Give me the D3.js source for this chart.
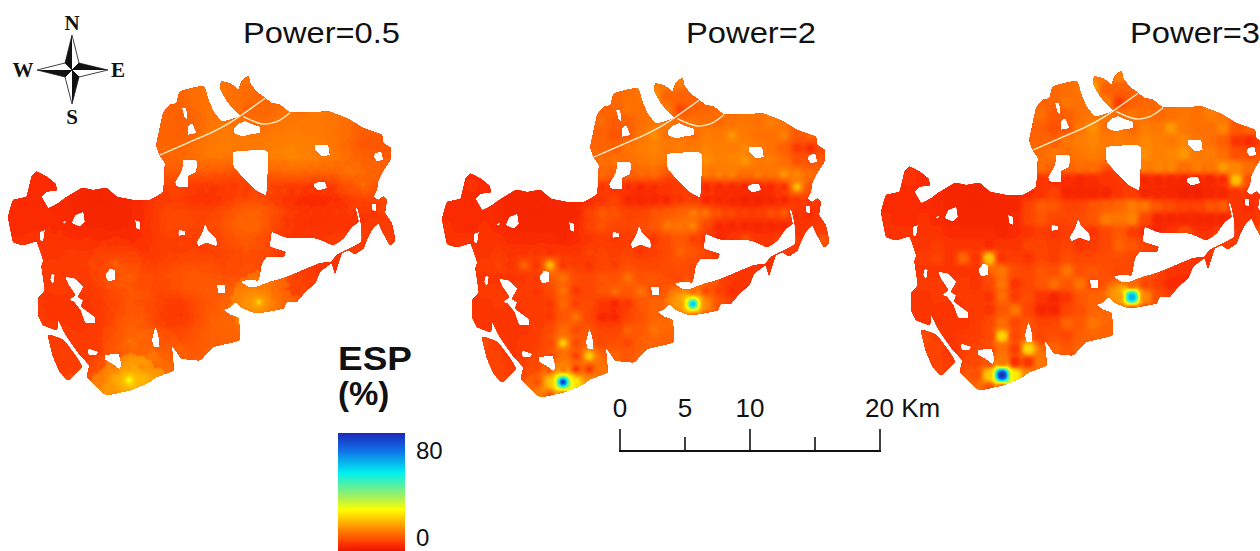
<!DOCTYPE html>
<html>
<head>
<meta charset="utf-8">
<script src="https://cdn.jsdelivr.net/npm/d3@7"></script>
<style>
  body { margin: 0; background: #fff; }
  svg { display: block; }
  text { font-family: "Liberation Sans", Arial, sans-serif; fill: #111; }
  .compass text { font-family: "Liberation Serif", serif; font-weight: bold; font-size: 21px; }
</style>
</head>
<body>
<svg id="chart" width="1260" height="551"></svg>
<script>
const _ = null;

// panels: IDW power, title and where the panel sits on the page
const powers = [0.5, 2, 3];
const panelTitles = ["Power=0.5", "Power=2", "Power=3"];
const panelDx = [0, 434, 873];
const panelDy = [0, 2, -5];
const titleX = [243, 686, 1130];

// ESP (%) read at the sample points, 1 km apart, one row per km north to south
const espSamples = [
  [],
  [_,_,_,_,_,_,_,_,_,_,_,_,_,_,_,_,_,13,14],
  [_,_,_,_,_,_,_,_,_,_,_,_,_,11,12,_,18,10,10],
  [_,_,_,_,_,_,_,_,_,_,_,_,_,11,13,12,_,14,6,10,11],
  [_,_,_,_,_,_,_,_,_,_,_,_,12,9,10,12,13,13,12,13,12,11,12,13,12,14,13,10],
  [_,_,_,_,_,_,_,_,_,_,_,_,10,8,9,13,16,12,13,11,14,13,17,13,12,12,15,9,11],
  [_,_,_,_,_,_,_,_,_,_,_,_,11,10,13,14,15,13,14,13,15,14,13,15,13,12,10,5,4],
  [_,_,_,_,_,_,_,_,_,_,_,_,12,13,12,13,14,_,_,_,16,14,15,17,13,14,12,8,8],
  [_,_,_,_,_,_,_,_,_,_,_,_,12,11,11,12,12,_,_,_,14,15,15,12,14,13,17,15,12],
  [_,_,5,4,_,_,3,3,_,_,_,_,5,4,4,3,4,5,_,6,3,3,3,3,3,3,4,22,8],
  [_,4,4,4,4,3,3,3,3,3,3,4,5,7,3,3,3,3,5,6,3,3,3,2,2,3,3,5,5],
  [4,4,4,4,4,3,3,3,3,3,3,7,10,9,7,7,9,10,11,14,13,9,8,7,7,9,10,5,4,5],
  [5,4,4,5,4,3,3,3,3,3,4,7,9,7,7,8,9,14,13,15,7,3,3,3,3,3,3,_,5,6],
  [_,5,5,_,5,4,4,4,4,3,4,5,6,5,6,_,5,7,9,6,4,3,5,8,_,_,7,_,5,9],
  [_,_,_,5,6,5,5,5,4,5,5,7,7,6,7,5,6,7,11,9,7],
  [_,_,_,6,7,5,11,5,22,5,6,5,7,6,8,7,7,8,8,7],
  [_,_,_,5,5,5,5,5,_,13,8,7,9,8,13,8,9,8,7,7],
  [_,_,_,6,6,_,6,5,7,13,5,7,9,12,9,13,7,_,_,11,7,6,4,4,5],
  [_,_,_,5,6,_,_,6,5,12,6,8,5,3,5,9,11,_,17,62,15,8,6,7],
  [_,_,_,5,5,5,_,6,5,9,13,7,3,3,7,8,11,11,10,9,7,7],
  [_,_,_,5,_,5,5,6,7,12,7,9,7,7,11,9,13,11],
  [_,_,_,8,6,5,6,6,7,24,7,_,7,8,7,10,11,10],
  [_,_,_,_,7,5,_,7,7,12,6,24,_,11,9,11,9,12],
  [_,_,_,_,7,6,_,7,8,13,4,5,13],
  [_,_,_,_,_,_,_,8,22,80,26,15],
  [_,_,_,_,_,_,_,_,8,10]
];

// colour ramp of the legend, value then colour
const rampValues = [0, 4, 8, 14, 28, 37, 53, 68, 80];
const rampColors = ["#e81800", "#fb2c00", "#ff5000", "#ff8000", "#ffff00", "#a0f060", "#00f0f0", "#1070e8", "#1a28b8"];

const scaleKm = [0, 5, 10, 15, 20];
const scaleLabels = ["0", "5", "10", "", "20 Km"];
const legendLabels = [80, 0];

// study area outline, traced in map units (3 units = 1 px)
const mainOutline = [[480,465],[470,435],[490,340],[510,315],[530,310],[540,275],[610,258],[625,300],[640,335],[665,365],[690,360],[722,348],[700,325],[680,300],[660,265],[665,245],[690,250],[715,270],[725,245],[745,228],[752,255],[775,280],[795,295],[815,310],[840,315],[865,335],[900,338],[985,335],[1040,355],[1090,385],[1145,405],[1150,430],[1172,445],[1170,480],[1150,510],[1135,540],[1130,570],[1120,590],[1135,600],[1150,590],[1160,600],[1155,640],[1175,670],[1185,720],[1170,735],[1150,700],[1135,670],[1115,690],[1100,720],[1090,745],[1065,762],[1045,750],[1025,760],[1015,790],[1005,820],[995,790],[960,815],[945,850],[915,875],[890,905],[860,905],[850,925],[800,935],[765,938],[730,925],[705,905],[690,920],[670,930],[690,945],[715,955],[718,1020],[640,1040],[600,1080],[545,1075],[515,1035],[520,1110],[470,1130],[440,1150],[390,1170],[320,1185],[290,1160],[262,1130],[268,1095],[240,1065],[215,1030],[195,1000],[175,960],[170,990],[130,975],[115,945],[115,895],[135,870],[125,800],[130,780],[110,725],[70,735],[40,725],[30,680],[25,650],[40,600],[80,590],[95,530],[110,515],[140,530],[165,550],[170,570],[140,575],[125,590],[145,625],[175,610],[195,595],[245,565],[280,570],[320,565],[350,590],[400,600],[450,600],[490,575],[495,490]];
const westStrip = [[150,1005],[190,1020],[225,1065],[245,1100],[205,1140],[180,1115],[160,1070],[145,1010]];
const holes = [
  [[550,478],[590,480],[590,515],[565,530],[565,560],[530,560],[525,545],[545,510]],
  [[700,455],[803,452],[800,585],[765,570],[730,535],[700,500]],
  [[945,435],[985,435],[990,465],[965,470],[945,450]],
  [[1125,458],[1145,455],[1150,480],[1130,485],[1120,470]],
  [[945,548],[975,545],[982,565],[955,572],[940,560]],
  [[715,370],[735,362],[760,372],[780,380],[780,400],[750,405],[725,410],[700,400],[700,385]],
  [[545,322],[560,325],[562,360],[552,350]],
  [[565,375],[578,370],[590,400],[562,405]],
  [[225,645],[250,635],[255,665],[240,680],[215,670]],
  [[185,665],[200,662],[195,672]],
  [[405,660],[420,665],[420,690],[408,685]],
  [[120,695],[135,690],[130,725],[118,720]],
  [[535,690],[555,692],[555,705],[535,708]],
  [[615,670],[625,690],[650,715],[650,740],[620,730],[595,740],[590,725],[605,700]],
  [[330,805],[345,810],[345,840],[325,845],[315,825]],
  [[650,855],[675,855],[675,880],[655,880]],
  [[155,820],[165,825],[160,855],[150,840]],
  [[195,830],[225,835],[250,860],[235,890],[250,900],[245,920],[285,950],[285,970],[255,968],[240,930],[220,905],[205,900],[225,885],[205,855]],
  [[465,980],[475,1000],[480,1040],[460,1040],[455,1020]],
  [[265,1045],[295,1055],[290,1065],[265,1065]],
  [[315,1065],[355,1060],[365,1090],[360,1110],[340,1095],[315,1080]],
  [[815,695],[860,712],[950,715],[1000,735],[1030,715],[1055,680],[1075,665],[1065,620],[1075,630],[1085,680],[1085,725],[1060,740],[1045,748],[1030,755],[1010,765],[995,785],[960,790],[900,815],[850,835],[800,850],[770,862],[745,862],[722,845],[745,838],[775,840],[785,790],[800,770],[850,770],[855,755],[810,740]],
  [[1115,610],[1130,612],[1128,635],[1115,630]]
];
const roads = [
  [[480,465],[560,430],[640,395],[690,368],[725,345],[795,295]],
  [[730,350],[790,372],[830,365],[870,338]]
];

// compass star arms, dark half and light half
const starTips = [[0,-35],[36,0],[0,34],[-35,0]];

const svg = d3.select("#chart");
const color = d3.scaleLinear().domain(rampValues).range(rampColors);

const mapX = d3.scaleLinear().domain([0, 1260]).range([0, 420]);
const mapY = d3.scaleLinear().domain([0, 1230]).range([0, 410]);
const sampleX = d3.scaleLinear().domain([0, 29]).range([12, 389]);
const sampleY = d3.scaleLinear().domain([0, 25]).range([68, 393]);
const ring = d3.line().x(d => mapX(d[0])).y(d => mapY(d[1])).curve(d3.curveCardinalClosed.tension(0.7));
const roadLine = d3.line().x(d => mapX(d[0])).y(d => mapY(d[1])).curve(d3.curveCatmullRom.alpha(0.5));

// flatten the samples to points
const points = [];
espSamples.forEach((row, j) => row.forEach((v, i) => {
  if (v !== null) points.push({ x: sampleX(i), y: sampleY(j), v: v });
}));

// raster used for the interpolation
const cell = 2, originY = 60;
const nx = 211, ny = 172, neighbours = 12;

// 12 nearest samples of every raster cell, shared by the panels
const nearest = new Array(nx * ny);
for (let gy = 0; gy < ny; gy++) {
  for (let gx = 0; gx < nx; gx++) {
    const px = gx * cell + 1, py = originY + gy * cell + 1;
    const best = [];
    for (let k = 0; k < points.length; k++) {
      const dx = points[k].x - px, dy = points[k].y - py;
      const d = Math.sqrt(dx * dx + dy * dy);
      if (best.length < neighbours || d < best[best.length - 1][0]) {
        let at = best.length;
        while (at > 0 && best[at - 1][0] > d) at--;
        best.splice(at, 0, [d, points[k].v]);
        if (best.length > neighbours) best.pop();
      }
    }
    nearest[gy * nx + gx] = best;
  }
}

function idw(power) {
  const out = new Float64Array(nx * ny);
  for (let c = 0; c < out.length; c++) {
    let sum = 0, weight = 0;
    nearest[c].forEach(n => {
      const w = 1 / Math.pow(Math.max(n[0], 0.1), power);
      sum += w * n[1];
      weight += w;
    });
    out[c] = sum / weight;
  }
  return out;
}

const defs = svg.append("defs");
defs.append("filter").attr("id", "soft")
  .attr("x", "-5%").attr("y", "-5%").attr("width", "110%").attr("height", "110%")
  .append("feGaussianBlur").attr("stdDeviation", 0.7);

defs.append("clipPath").attr("id", "areaClip")
  .append("path")
  .attr("clip-rule", "evenodd")
  .attr("d", [mainOutline, westStrip].concat(holes).map(ring).join(""));

const grad = defs.append("linearGradient").attr("id", "ramp")
  .attr("x1", 0).attr("x2", 0).attr("y1", 1).attr("y2", 0);
rampValues.forEach((v, i) => {
  grad.append("stop").attr("offset", v / 80).attr("stop-color", rampColors[i]);
});

const thresholds = d3.range(0, 30, 0.5).concat(d3.range(30, 81, 1));
const contours = d3.contours().size([nx, ny]).thresholds(thresholds);
const toPage = d3.geoPath(d3.geoTransform({
  point(x, y) { this.stream.point(x * cell, originY + y * cell); }
}));

powers.forEach((power, p) => {
  const panel = svg.append("g")
    .attr("transform", `translate(${panelDx[p]},${panelDy[p]})`)
    .attr("filter", "url(#soft)");
  const clipped = panel.append("g").attr("clip-path", "url(#areaClip)");

  clipped.selectAll("path")
    .data(contours(Array.from(idw(power))))
    .enter().append("path")
    .attr("d", toPage)
    .attr("fill", d => color(d.value));

  panel.selectAll("path.road")
    .data(roads)
    .enter().append("path")
    .attr("class", "road")
    .attr("d", roadLine)
    .attr("fill", "none")
    .attr("stroke", "#fff2d0")
    .attr("stroke-width", 1.3);

  svg.append("text")
    .attr("x", titleX[p]).attr("y", 43)
    .attr("font-size", 29)
    .attr("textLength", p === 0 ? 157 : 130)
    .attr("lengthAdjust", "spacingAndGlyphs")
    .text(panelTitles[p]);
});

// compass
const compass = svg.append("g").attr("class", "compass").attr("transform", "translate(72,70)");
const inner = 7;
starTips.forEach((tip, i) => {
  const a = [tip[0] === 0 ? -inner : inner * Math.sign(tip[0]), tip[1] === 0 ? inner * (tip[0] > 0 ? -1 : 1) : inner * Math.sign(tip[1])];
  const b = [tip[0] === 0 ? inner : inner * Math.sign(tip[0]), tip[1] === 0 ? inner * (tip[0] > 0 ? 1 : -1) : inner * Math.sign(tip[1])];
  const flip = tip[1] > 0 ? [b, a] : [a, b];
  compass.append("path").attr("d", d3.line()([[0, 0], flip[0], tip])).attr("fill", "#111").attr("stroke", "#111").attr("stroke-width", 0.7);
  compass.append("path").attr("d", d3.line()([[0, 0], flip[1], tip])).attr("fill", "#fff").attr("stroke", "#111").attr("stroke-width", 0.8);
});
const compassLabels = [["N", 0, -40], ["E", 46, 7], ["S", 0, 54], ["W", -49, 7]];
compass.selectAll("text").data(compassLabels).enter().append("text")
  .attr("x", d => d[1]).attr("y", d => d[2])
  .attr("text-anchor", "middle")
  .text(d => d[0]);

// legend
svg.append("text").attr("x", 338).attr("y", 370).attr("font-size", 33).attr("font-weight", "bold")
  .attr("textLength", 74).attr("lengthAdjust", "spacingAndGlyphs").text("ESP");
svg.append("text").attr("x", 338).attr("y", 405).attr("font-size", 33).attr("font-weight", "bold").text("(%)");
svg.append("rect").attr("x", 338).attr("y", 433).attr("width", 67).attr("height", 118).attr("fill", "url(#ramp)");
const legendY = d3.scaleLinear().domain([0, 80]).range([537, 450]);
svg.selectAll("text.legend").data(legendLabels).enter().append("text")
  .attr("class", "legend")
  .attr("x", 416).attr("y", d => legendY(d))
  .attr("dy", "0.36em")
  .attr("font-size", 24)
  .text(d => d);

// scale bar
const km = d3.scaleLinear().domain([0, 20]).range([620, 880]);
const bar = svg.append("g").attr("transform", "translate(0,451)");
bar.append("line").attr("x1", km(0) - 1).attr("x2", km(20) + 1).attr("stroke", "#111").attr("stroke-width", 2);
bar.selectAll("line.tick").data(scaleKm).enter().append("line")
  .attr("class", "tick")
  .attr("x1", d => km(d)).attr("x2", d => km(d))
  .attr("y1", 0).attr("y2", d => d % 10 === 0 ? -22 : -14)
  .attr("stroke", "#111").attr("stroke-width", 1.6);
svg.selectAll("text.km").data(scaleKm).enter().append("text")
  .attr("class", "km")
  .attr("x", d => d === 20 ? km(d) - 15 : km(d))
  .attr("y", 417)
  .attr("text-anchor", d => d === 20 ? "start" : "middle")
  .attr("font-size", 26)
  .text((d, i) => scaleLabels[i]);
</script>
</body>
</html>
